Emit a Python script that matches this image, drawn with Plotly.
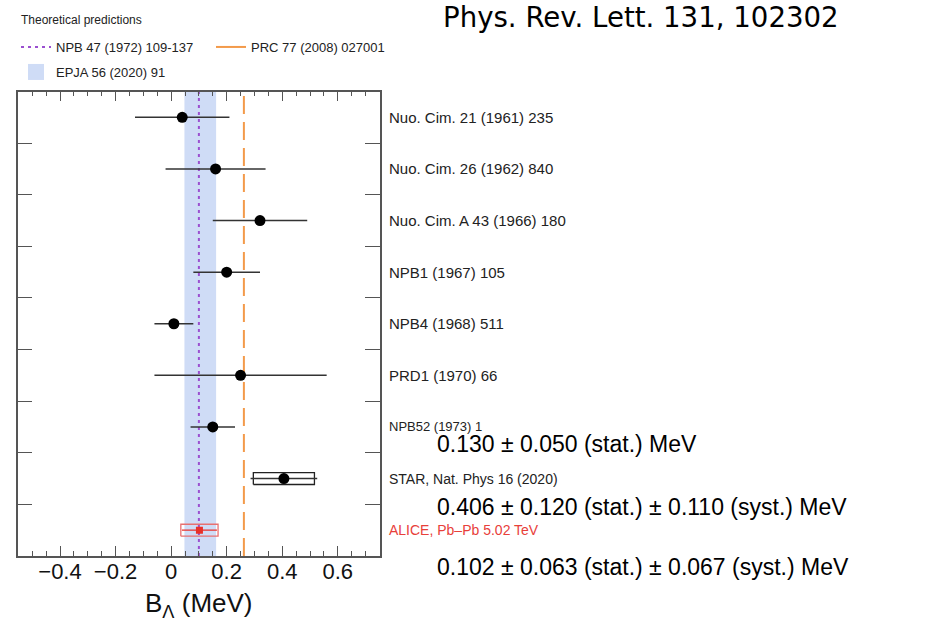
import plotly.graph_objects as go

W, H = 952, 635

# ---------------- data ----------------
labels = [
    "Nuo. Cim. 21 (1961) 235",
    "Nuo. Cim. 26 (1962) 840",
    "Nuo. Cim. A 43 (1966) 180",
    "NPB1 (1967) 105",
    "NPB4 (1968) 511",
    "PRD1 (1970) 66",
    "NPB52 (1973) 1",
    "STAR, Nat. Phys 16 (2020)",
    "ALICE, Pb\u2013Pb 5.02 TeV",
]
values = [0.04, 0.16, 0.32, 0.20, 0.01, 0.25, 0.15, 0.406, 0.102]
stat_err = [0.17, 0.18, 0.17, 0.12, 0.07, 0.31, 0.08, 0.120, 0.063]
syst_err = [None, None, None, None, None, None, None, 0.110, 0.067]

theory_npb47 = 0.10          # NPB 47 (1972) 109-137
theory_prc77 = 0.262         # PRC 77 (2008) 027001
theory_epja_lo = 0.048       # EPJA 56 (2020) 91 band
theory_epja_hi = 0.162

x_tickvals = [-0.4, -0.2, 0, 0.2, 0.4, 0.6]
x_ticktext = ["\u22120.4", "\u22120.2", "0", "0.2", "0.4", "0.6"]

slide_texts = [
    "0.130 \u00b1 0.050 (stat.) MeV",
    "0.406 \u00b1 0.120 (stat.) \u00b1 0.110 (syst.) MeV",
    "0.102 \u00b1 0.063 (stat.) \u00b1 0.067 (syst.) MeV",
]
reference = "Phys. Rev. Lett. 131, 102302"

# ---------------- styling ----------------
n = len(labels)
rows = [n - 0.5 - i for i in range(n)]        # row centres, top to bottom
label_sizes = [15, 15, 15, 15, 15, 15, 13, 14, 14]
label_colors = ["#222"] * 8 + ["#e8403a"]
FONT = "Liberation Sans, Arial, sans-serif"
FRAME = "#555"
BOX_HALF = 0.115
BAND = "#cfdcf6"
PURPLE = "#9b4fd0"
ORANGE = "#f39a4a"

def px_x(p):
    return p / W

def px_y(p):
    return 1 - p / H

fig = go.Figure()

# theory band
fig.add_trace(go.Scatter(
    x=[theory_epja_lo, theory_epja_hi, theory_epja_hi, theory_epja_lo, theory_epja_lo],
    y=[0, 0, n, n, 0], mode="lines", fill="toself", fillcolor=BAND,
    line=dict(width=0, color=BAND), showlegend=False, hoverinfo="skip"))
# theory lines
fig.add_trace(go.Scatter(
    x=[theory_npb47, theory_npb47], y=[0, n], mode="lines",
    line=dict(color=PURPLE, width=2, dash="3px,4px"),
    name="NPB 47 (1972) 109-137", legend="legend"))
fig.add_trace(go.Scatter(
    x=[theory_prc77, theory_prc77], y=[0, n], mode="lines",
    line=dict(color=ORANGE, width=2, dash="18px,8px"),
    showlegend=False))
# legend-only entries
fig.add_trace(go.Scatter(
    x=[None], y=[None], mode="lines", line=dict(color=ORANGE, width=2),
    name="PRC 77 (2008) 027001", legend="legend"))
fig.add_trace(go.Scatter(
    x=[None], y=[None], mode="markers",
    marker=dict(color=BAND, size=18, symbol="square", line=dict(width=0)),
    name="EPJA 56 (2020) 91", legend="legend2"))

# systematic boxes
for i in range(n):
    if syst_err[i] is None:
        continue
    col = "#e87070" if i == n - 1 else "#222"
    x0, x1 = values[i] - syst_err[i], values[i] + syst_err[i]
    y0, y1 = rows[i] - BOX_HALF, rows[i] + BOX_HALF
    fig.add_trace(go.Scatter(
        x=[x0, x1, x1, x0, x0], y=[y0, y0, y1, y1, y0], mode="lines",
        line=dict(color=col, width=1.3), showlegend=False, hoverinfo="skip"))

# measurements (black)
fig.add_trace(go.Scatter(
    x=values[:-1], y=rows[:-1], mode="markers",
    marker=dict(color="black", size=11),
    error_x=dict(type="data", array=stat_err[:-1], width=0, color="#333", thickness=1.5),
    showlegend=False))
# ALICE (red)
fig.add_trace(go.Scatter(
    x=values[-1:], y=rows[-1:], mode="markers",
    marker=dict(color="#e8312a", size=7, symbol="square"),
    error_x=dict(type="data", array=stat_err[-1:], width=0, color="#e8312a", thickness=1.3),
    showlegend=False))

annotations = []
for i in range(n):
    annotations.append(dict(
        x=px_x(387), xref="paper", y=rows[i], yref="y", text=labels[i],
        xanchor="left", yanchor="middle", showarrow=False,
        font=dict(family=FONT, size=label_sizes[i], color=label_colors[i])))

annotations.append(dict(
    x=px_x(19), xref="paper", y=px_y(20), yref="paper", text="Theoretical predictions",
    xanchor="left", yanchor="middle", showarrow=False,
    font=dict(family=FONT, size=12, color="#222")))

slide_y = [444, 507, 567]
for t, yy in zip(slide_texts, slide_y):
    annotations.append(dict(
        x=px_x(435), xref="paper", y=px_y(yy), yref="paper", text=t,
        xanchor="left", yanchor="middle", showarrow=False,
        font=dict(family=FONT, size=23, color="black")))

annotations.append(dict(
    x=px_x(441), xref="paper", y=px_y(18), yref="paper", text=reference,
    xanchor="left", yanchor="middle", showarrow=False,
    font=dict(family="DejaVu Sans, sans-serif", size=27.6, color="black")))

axis_common = dict(showline=True, linecolor=FRAME, linewidth=1.5, mirror="ticks",
                   ticks="inside", tickcolor=FRAME, tickwidth=1.2,
                   showgrid=False, zeroline=False, automargin=False)

fig.update_layout(
    width=W, height=H, margin=dict(l=0, r=0, t=0, b=0),
    paper_bgcolor="white", plot_bgcolor="white",
    font=dict(family=FONT, color="black"),
    xaxis=dict(domain=[px_x(17.5), px_x(380)], range=[-0.553, 0.752],
               tickmode="array", tickvals=x_tickvals, ticktext=x_ticktext,
               ticklen=10, tickfont=dict(size=22, family=FONT, color="#111"),
               ticklabelstandoff=-5,
               minor=dict(tickmode="linear", tick0=0, dtick=0.05, ticklen=5,
                          ticks="inside", tickcolor=FRAME, tickwidth=1.2),
               title=dict(text="B<sub>\u039b</sub> (MeV)", font=dict(size=26, family=FONT, color="#111"),
                          standoff=11),
               **axis_common),
    yaxis=dict(domain=[px_y(556), px_y(91.5)], range=[0, n],
               tickmode="array", tickvals=list(range(1, n)), ticklen=15,
               showticklabels=False, **axis_common),
    legend=dict(orientation="h", x=px_x(16), y=px_y(47), xanchor="left", yanchor="middle",
                entrywidth=150, entrywidthmode="pixels", bgcolor="rgba(0,0,0,0)",
                font=dict(family=FONT, size=13, color="#222"), itemwidth=30, tracegroupgap=0),
    legend2=dict(orientation="h", x=px_x(16), y=px_y(72), xanchor="left", yanchor="middle",
                 bgcolor="rgba(0,0,0,0)", itemsizing="trace",
                 font=dict(family=FONT, size=13, color="#222"), itemwidth=30),
    annotations=annotations,
    showlegend=True,
)

fig.write_html("out.html", config={"displayModeBar": False},
               post_script="document.body.style.margin='0';")
